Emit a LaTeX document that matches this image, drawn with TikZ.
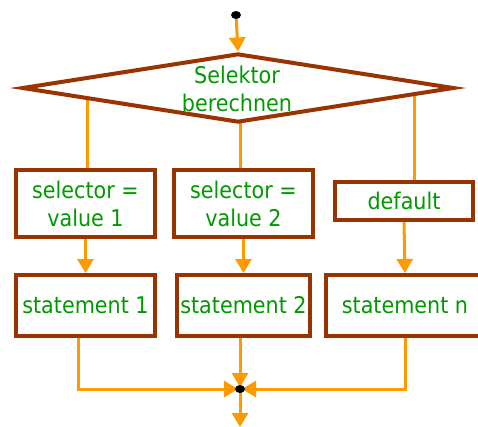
\documentclass[tikz,border=0pt]{standalone}
\usepackage{fontspec}
\setmainfont{DejaVu Sans}[FakeStretch=0.9]
\usetikzlibrary{shapes.geometric,arrows.meta}
\pgfdeclarelayer{background}
\pgfsetlayers{background,main}
\definecolor{lineor}{HTML}{FF9900}
\definecolor{boxbr}{HTML}{993300}
\definecolor{txtgr}{HTML}{009900}
\begin{document}
\begin{tikzpicture}[x=1pt,y=-1pt,
  txt/.style={text=txtgr,align=center,inner sep=0pt,font=\fontsize{23}{28}\selectfont},
  box/.style={txt,draw=boxbr,line width=4pt,fill=white},
  decision/.style={diamond,draw=boxbr,line width=4pt,fill=white,inner sep=0pt,minimum width=432pt,minimum height=69pt},
  flow/.style={draw=lineor,line width=3pt},
  arr/.style={flow,-{Triangle[length=14pt,width=16pt]}},
  dotn/.style={ellipse,fill=black,inner sep=0pt,minimum width=10pt,minimum height=8pt}]
\useasboundingbox (0,0) rectangle (478,426);
\clip (0,0) rectangle (478,426);
% nodes
\node[dotn] (start) at (236,15) {};
\node[decision] (sel) at (238,88) {};
\node[txt] (seltxt) at (237,89) {Selektor\\berechnen};
\node[box,minimum width=139pt,minimum height=67pt] (b1) at (85.5,203.5) {selector =\\value 1};
\node[box,minimum width=139pt,minimum height=67pt] (b2) at (243.5,203.5) {selector =\\value 2};
\node[box,minimum width=138pt,minimum height=38pt] (d) at (404,201) {default};
\node[box,minimum width=139pt,minimum height=61pt] (s1) at (85.5,305.5) {statement 1};
\node[box,minimum width=133pt,minimum height=61pt] (s2) at (243.5,305.5) {statement 2};
\node[box,minimum width=158pt,minimum height=61pt] (sn) at (405,305.5) {statement n};
\coordinate (j) at (240,389);
\coordinate (out) at (240,427);
% connectors
\begin{pgfonlayer}{background}
\draw[flow] ([xshift=1.5pt]b1.north) -- ([xshift=1.5pt]b1.north |- sel.center);
\draw[flow] ([xshift=-3.5pt]b2.north) -- ([xshift=-3.5pt]b2.north |- sel.center);
\draw[flow] ([xshift=10pt]d.north) -- ([xshift=10pt]d.north |- sel.center);
\end{pgfonlayer}
\draw[arr] (start) -- (sel.north);
\draw[arr] (b1.south) -- (s1.north);
\draw[arr] (b2.south) -- (s2.north);
\draw[arr] (d.south) -- (sn.north);
\draw[arr,shorten >=2pt] ([xshift=-7.5pt]s1.south) |- (j);
\draw[arr,shorten >=2pt] ([xshift=-3.5pt]s2.south) -- (j);
\draw[arr,shorten >=2pt] (sn.south) |- (j);
\draw[arr] (j) -- (out);
\node[dotn] (jdot) at (j) {};
\end{tikzpicture}
\end{document}
